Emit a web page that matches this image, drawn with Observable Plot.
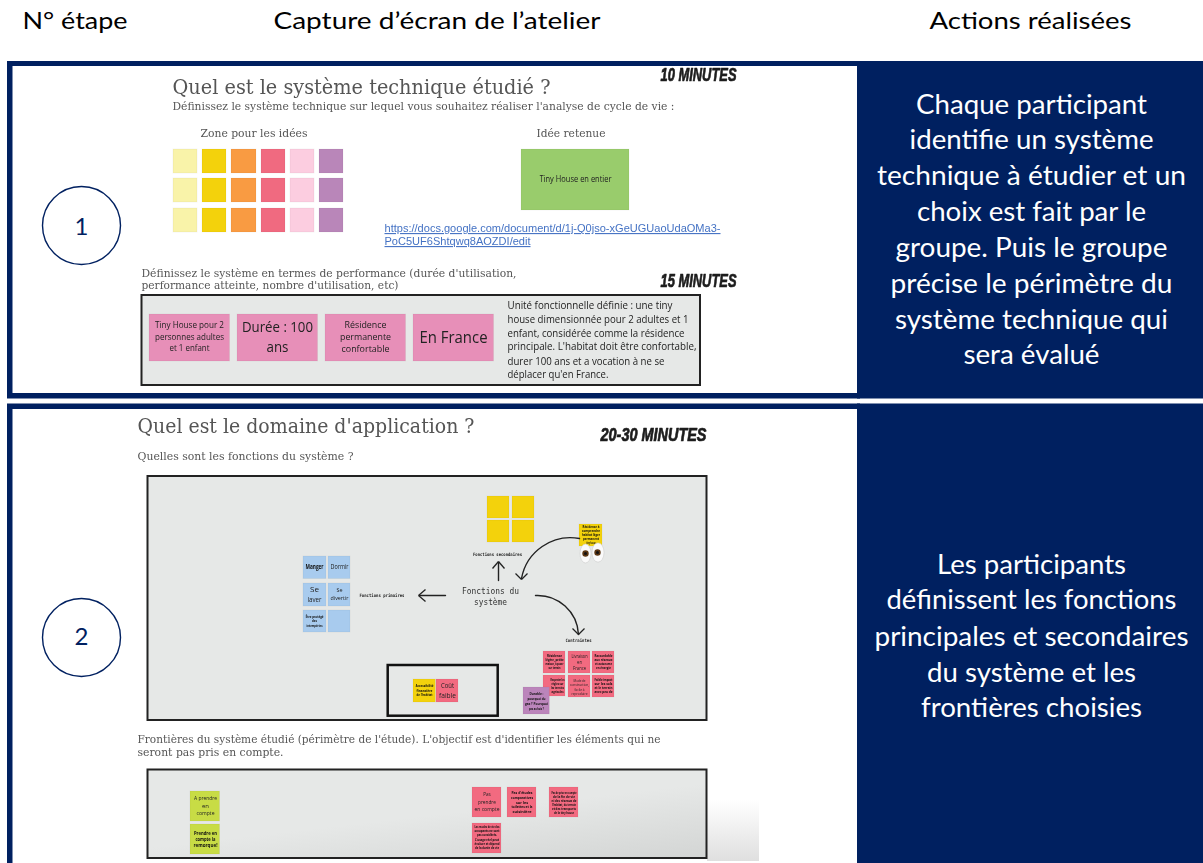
<!DOCTYPE html>
<html>
<head>
<meta charset="utf-8">
<style>html,body{margin:0;padding:0;background:#fff}svg{display:block}</style>
<script src="https://cdn.jsdelivr.net/npm/d3@7"></script>
<script src="https://cdn.jsdelivr.net/npm/@observablehq/plot@0.6"></script>
</head>
<body>
<div id="chart"></div>
<script>
// ---- Text content ----
const headers = ["N° étape", "Capture d’écran de l’atelier", "Actions réalisées"];
const stepNumbers = ["1", "2"];
const actions1 = ["Chaque participant", "identifie un système", "technique à étudier et un", "choix est fait par le", "groupe. Puis le groupe", "précise le périmètre du", "système technique qui", "sera évalué"];
const actions2 = ["Les participants", "définissent les fonctions", "principales et secondaires", "du système et les", "frontières choisies"];
const durations = ["10 MINUTES", "15 MINUTES", "20-30 MINUTES"];
const titles = ["Quel est le système technique étudié ?", "Quel est le domaine d'application ?"];
const prompts = [
  "Définissez le système technique sur lequel vous souhaitez réaliser l'analyse de cycle de vie :",
  "Zone pour les idées", "Idée retenue",
  "Définissez le système en termes de performance (durée d'utilisation,",
  "performance atteinte, nombre d'utilisation, etc)",
  "Quelles sont les fonctions du système ?",
  "Frontières du système étudié (périmètre de l'étude). L'objectif est d'identifier les éléments qui ne",
  "seront pas pris en compte."
];
const linkLines = ["https://docs.google.com/document/d/1j-Q0jso-xGeUGUaoUdaOMa3-", "PoC5UF6Shtqwq8AOZDI/edit"];
const uniteLines = ["Unité fonctionnelle définie : une tiny", "house dimensionnée pour 2 adultes et 1", "enfant, considérée comme la résidence", "principale. L'habitat doit être confortable,", "durer 100 ans et a vocation à ne se", "déplacer qu'en France."];
const diagramLabels = ["Fonctions secondaires", "Fonctions primaires", "Contraintes"];
const diagramCentre = ["Fonctions du", "système"];

// ---- Helpers ----
const navy = "#002060", slate = "#555";
const rects = [], labelGroups = [];
const R = (x1, x2, y1, y2, fill) => rects.push({x1, x2, y1, y2, fill});
const grid = (xs, ys, fill) => ys.forEach(([a, b]) => xs.forEach(([c, d]) => R(c, d, a, b, fill)));
function text(rows, font, opts = {}) {
  labelGroups.push({rows: rows.map(([t, x, y, s, w]) => ({t, x, y, s, w})), font, ...opts});
}

// ---- Sticky notes ----
const ideaCols = [[173,197],[202,226],[231,256],[261,285],[290,314],[319,343]];
const ideaColors = ["#f9f3a9","#f3d20c","#f99b42","#f06a80","#fccde0","#b986b9"];
ideaCols.forEach((c, i) => grid([c], [[149,173],[178,202],[208,232]], ideaColors[i]));
R(521, 629, 149, 210, "#99cc6c");
grid([[149,229.5],[237,317.5],[325,405.5],[413,493.5]], [[314,361]], "#e78fb8");
grid([[487,509],[512,534]], [[496,518],[520,542]], "#f3d20c");
R(579, 602, 524, 546, "#f3d20c");
grid([[303,326],[328,350]], [[556,578.5],[583,606],[610,632]], "#a8cbee");
R(413, 435.3, 679, 702, "#f3d20c");
R(436, 458, 679, 702, "#f26a80");
grid([[543,565],[568,590],[592,614]], [[651,673]], "#f26a80");
R(543, 565, 675, 696, "#f26a80");
grid([[568,590],[592,614]], [[675,697]], "#f26a80");
R(523, 549.3, 687, 714, "#bb85bb");
grid([[190,219.5]], [[791,821],[824,854]], "#c8dc45");
grid([[472,501],[507,536],[549,578]], [[787,817]], "#f26a80");
R(472, 501, 823, 853, "#f26a80");

// ---- Texts ----
text([[headers[0],22,21,24,105],[headers[1],273,21,24,327],[headers[2],929,21,24,202]], "Lato", {fill:"#000"});
text([[stepNumbers[0],81,227,24],[stepNumbers[1],81,637,24]], "Lato", {fill:navy, anchor:"middle"});
const a1y=[105,140,176,212,248,284,320,355], a1w=[231,244,309,229,272,282,273,136];
const a2y=[565,600,637,673,708], a2w=[189,290,314,209,221];
text(actions1.map((t,i)=>[t,1031,a1y[i],26,a1w[i]]), "Lato", {fill:"#fff", anchor:"middle"});
text(actions2.map((t,i)=>[t,1031,a2y[i],26,a2w[i]]), "Lato", {fill:"#fff", anchor:"middle"});
text([[durations[0],660,75,18,76],[durations[1],660,281,18,76],[durations[2],600,435,18,106]], "'Liberation Sans Narrow','Liberation Sans'", {fill:"#1c1c1c", weight:700, italic:true, stroke:0.7, blur:.3});
text([[titles[0],172,87,21,378],[titles[1],137,426,21,337]], "'DejaVu Serif'", {fill:slate, blur:.35});
text([[prompts[0],172,105.5,11,502],[prompts[1],200,133,11,107],[prompts[2],536,133,11,69],
      [prompts[3],141,272.5,11,375],[prompts[4],141,285,11,257],[prompts[5],137,456,11,216],
      [prompts[6],137,739,11,523],[prompts[7],137,752,11,146]], "'DejaVu Serif'", {fill:slate, blur:.35});
text([[linkLines[0],384,228,11,336],[linkLines[1],384,241,11,146]], "'Liberation Sans'", {fill:"#4472c4", underline:true, blur:.3});
const uy=[305,319,333,346.5,361,374.5], uw=[165,181,177,189,157,101];
text(uniteLines.map((t,i)=>[t,507,uy[i],10.5,uw[i]]), "'Open Sans'", {fill:"#222", blur:.3});
text([
  ["Tiny House en entier",575,179,8.5,72],
  ["Tiny House pour 2",189,325,9,69],["personnes adultes",189,336.5,9,69],["et 1 enfant",189,347.5,9,40],
  ["Durée : 100",277,327,14.5,71],["ans",277,346.5,14.5,22],
  ["Résidence",365,324.5,9.5,42],["permanente",365,336.5,9.5,51],["confortable",365,348,9.5,48],
  ["En France",453,337,16,68],
  ["Dormir",339,566.5,6.5,18],
  ["Se",314,589,8,9],["laver",314,598.5,8,14],["Se",339,590,6,6],["divertir",339,597.5,6,18],
  ["Coût",447,685.5,7.5,13],["faible",447,695,7.5,17],
  ["Livraison",579,656,4.8,16],["en",579,661.8,4.8,5],["France",579,667.5,4.8,13],
  ["Mode de",579,680,3.8,12],["construction,",579,684.5,3.8,19],["facile à",579,689,3.8,10],["reproduire",579,693.5,3.8,16],
  ["A prendre",205,798,5.5,23],["en",205,805.5,5.5,7],["compte",205,812.5,5.5,18],
  ["Pas",486.5,794,5.5,7.5],["prendre",486.5,801.5,5.5,18],["en compte",486.5,808.5,5.5,25]
], "'Open Sans'", {fill:"#222", anchor:"middle", blur:.35});
text([
  ["Manger",314,566.5,6.5,18],
  ["Être protégé",314,616,3.6,18],["des",314,620.5,3.6,5],["intempéries",314,625,3.6,16],
  ["Accessibilité",424,685,3.6,18],["financière",424,690,3.6,16],["de l'habitat",424,694.5,3.6,16],
  ["Résidence à",590.5,527,3,17],["comprendre",590.5,531,3,18],["habitat léger",590.5,535,3,18],["permanent",590.5,539,3,16],["tiny house",590.5,543,3,9],
  ["Résidence",554,656,3,15],["légère, petite",554,660,3,18],["maison, à poser",554,664,3,18],["sur terrain",554,668,3,12],
  ["Raccordable",603,656,3,18],["aux réseaux",603,660,3,18],["et autonome",603,664,3,17],["en énergie",603,668,3,15],
  ["Respecter les",557,680,3,14],["règles sur",557,684,3,12],["les terrains",557,688,3,13],["agricoles",557,692,3,12],
  ["Faible impact",603,680,3,18],["sur les sols",603,684,3,18],["et le terrain",603,688,3,18],["avec peu de",603,692,3,18],
  ["Durable :",536,693,3.8,14],["pourquoi du",536,698,3.8,18],["gaz ? Pourquoi",536,703,3.8,23],["pas au bois ?",536,708,3.8,15],
  ["Prendre en",205,833,5.5,23],["compte la",205,839,5.5,20],["remorque!",205,845,5.5,24],
  ["Pas d'études",521.5,792,4,21],["comparatives",521.5,797,4,22],["sur les",521.5,802,4,12],["toilettes et la",521.5,806.5,4,21],["cuisinière",521.5,811,4,19],
  ["Pas de prise en compte",563.5,793,3,25],["de la fin de vie",563.5,797,3,22],["ni des réseaux de",563.5,801,3,25],["l'habitat, du terrain",563.5,805,3,24],["et des transports",563.5,809,3,24],["de la tiny house",563.5,813,3,20],
  ["Les modes de vie des",486.5,827,3,25],["occupants ne sont",486.5,831,3,25],["pas considérés.",486.5,835,3,20],["L'usage réel peut",486.5,839.5,3,24],["évoluer et dépend",486.5,843.5,3,25],["de la durée de vie",486.5,847.5,3,24]
], "'Open Sans'", {fill:"#111", anchor:"middle", weight:700, blur:.35});
text([[diagramLabels[0],497,554,4.5,49],[diagramLabels[1],381.5,595,4.5,45],[diagramLabels[2],578,640,4.5,26]],
     "'DejaVu Sans Mono'", {fill:"#222", anchor:"middle", weight:700, blur:.3});
text([[diagramCentre[0],490,590,9.5,57],[diagramCentre[1],490,601,9.5,33]], "'DejaVu Sans Mono'", {fill:"#333", anchor:"middle", blur:.3});

// ---- Plot ----
const line = (x1,x2,y1,y2,extra) => Plot.rect([{x1,x2,y1,y2}], {x1:"x1",x2:"x2",y1:"y1",y2:"y2",...extra});
const labelMarks = labelGroups.map(g => Plot.text(g.rows, {
  x:"x", y:"y", text:"t", fontSize:d=>d.s, fontFamily:g.font, fill:g.fill,
  fontWeight:g.weight, fontStyle:g.italic?"italic":undefined,
  textAnchor:g.anchor||"start", lineAnchor:"middle",
  stroke:g.stroke?g.fill:undefined, strokeWidth:g.stroke
}));
const arrowStyle = {x1:"x1",y1:"y1",x2:"x2",y2:"y2",stroke:"#222",strokeWidth:1.4,headLength:0,inset:0};
const plot = Plot.plot({
  width:1203, height:863, margin:0,
  x:{domain:[0,1203], range:[0,1203], axis:null},
  y:{domain:[0,863], range:[0,863], axis:null},
  color:{type:"identity"},
  style:{background:"#fff"},
  marks:[
    () => {
      const defs = d3.create("svg:defs");
      const g1 = defs.append("linearGradient").attr("id","fade").attr("x1",0).attr("y1",0).attr("x2",0).attr("y2",1);
      g1.append("stop").attr("offset",0).attr("stop-color","#fff");
      g1.append("stop").attr("offset",1).attr("stop-color","#dfdfdf");
      const g2 = defs.append("linearGradient").attr("id","boxfade").attr("x1",0.6).attr("y1",0.45).attr("x2",1).attr("y2",1);
      g2.append("stop").attr("offset",0).attr("stop-color","#e6e8e7");
      g2.append("stop").attr("offset",1).attr("stop-color","#d3d5d4");
      return defs.node();
    },
    // navy frames and action panels
    line(7,860,61,398.5,{fill:navy}),
    line(7,860,403.5,863,{fill:navy}),
    line(12.5,857,66,393,{fill:"#fff"}),
    line(12.5,857,409,863,{fill:"#fff"}),
    line(857,1203,61,398.5,{fill:navy}),
    line(857,1203,403.5,863,{fill:navy}),
    // gradient leftover beside lower screenshot
    line(707,759,800,861,{fill:"url(#fade)"}),
    // screenshot boards
    line(141.5,700,295,385,{fill:"#e6e8e7",stroke:"#222",strokeWidth:2}),
    line(147.5,706.5,476,720,{fill:"#e6e8e7",stroke:"#222",strokeWidth:2}),
    line(147.5,706.5,769.5,858,{fill:"url(#boxfade)",stroke:"#222",strokeWidth:2}),
    line(387.7,497.7,665,715.7,{fill:"none",stroke:"#111",strokeWidth:2.5}),
    // sticky notes
    Plot.rect(rects,{x1:"x1",x2:"x2",y1:"y1",y2:"y2",fill:"fill",stroke:"#000",strokeOpacity:0.04,strokeWidth:1}),
    // eyes
    Plot.rect([{x1:580,x2:591,y1:544,y2:563},{x1:592,x2:604,y1:543,y2:562}],
      {x1:"x1",x2:"x2",y1:"y1",y2:"y2",fill:"#fafafa",stroke:"#ccc",strokeWidth:0.6,rx:5.5,ry:9.5}),
    Plot.dot([{x:585,y:553},{x:597,y:552}],{x:"x",y:"y",r:3.2,fill:"#5a3512"}),
    Plot.dot([{x:585,y:553},{x:597,y:552}],{x:"x",y:"y",r:1.5,fill:"#111"}),
    // arrows: shafts
    Plot.arrow([{x1:498,y1:580,x2:498,y2:562},{x1:445,y1:595,x2:419,y2:595}], arrowStyle),
    Plot.arrow([{x1:579,y1:538,x2:521,y2:578}], {...arrowStyle, bend:-45}),
    Plot.arrow([{x1:535,y1:595,x2:578,y2:634}], {...arrowStyle, bend:45}),
    // arrows: heads
    Plot.link([
      {x1:498,y1:561,x2:492,y2:568},{x1:498,y1:561,x2:504,y2:568},
      {x1:418,y1:595,x2:425,y2:589},{x1:418,y1:595,x2:425,y2:601},
      {x1:521,y1:579,x2:515,y2:573},{x1:521,y1:579,x2:527,y2:573},
      {x1:578,y1:634,x2:572,y2:628},{x1:578,y1:634,x2:584,y2:628}
    ], {x1:"x1",y1:"y1",x2:"x2",y2:"y2",stroke:"#222",strokeWidth:1.3}),
    // step circles
    Plot.dot([{x:81,y:225},{x:81,y:637}],{x:"x",y:"y",r:39,fill:"#fff",stroke:navy,strokeWidth:1.4}),
    ...labelMarks
  ]
});
// Fit each line of text to the width measured in the reference
const nodes = plot.querySelectorAll('g[aria-label="text"]');
labelGroups.forEach((g, gi) => {
  const node = nodes[gi];
  if (!node) return;
  if (g.blur) node.style.filter = `blur(${g.blur}px)`;
  node.querySelectorAll("text").forEach((el, i) => {
    const w = g.rows[i].w;
    if (w) { el.setAttribute("textLength", w); el.setAttribute("lengthAdjust", "spacingAndGlyphs"); }
    if (g.underline) el.style.textDecoration = "underline";
  });
});
// Soften the edges inside the screenshots, which are blurred in the reference
plot.querySelectorAll('g[aria-label="rect"]').forEach((el, i) => { if (i >= 7) el.style.filter = "blur(0.35px)"; });
document.getElementById("chart").append(plot);
</script>
</body>
</html>
